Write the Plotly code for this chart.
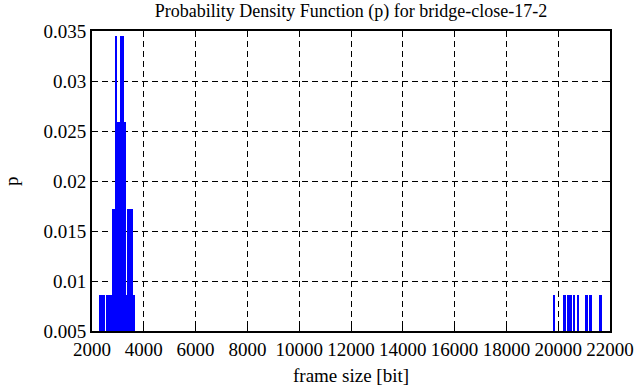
import plotly.graph_objects as go

# frame sizes [bit] and probabilities
frame_sizes = [2340, 2460, 2580, 2660, 2730, 2810, 2850, 2930, 3000, 3040,
               3120, 3200, 3270, 3320, 3390, 3470, 3540, 3620,
               19840, 20260, 20380, 20490, 20630, 20780, 21110, 21250, 21650]
probabilities = [0.00862, 0.00862, 0.00862, 0.00862, 0.00862, 0.01724, 0.01724, 0.03448, 0.02586, 0.02586,
                 0.03448, 0.03448, 0.02586, 0.00862, 0.01724, 0.01724, 0.01724, 0.00862,
                 0.00862, 0.00862, 0.00862, 0.00862, 0.00862, 0.00862, 0.00862, 0.00862, 0.00862]

x_ticks = [2000, 4000, 6000, 8000, 10000, 12000, 14000, 16000, 18000, 20000, 22000]
x_ticklabels = [str(v) for v in x_ticks]
y_ticks = [0.005, 0.01, 0.015, 0.02, 0.025, 0.03, 0.035]
y_ticklabels = ["0.005", "0.01", "0.015", "0.02", "0.025", "0.03", "0.035"]

font = "Liberation Serif"

fig = go.Figure()
fig.add_trace(go.Bar(
    x=frame_sizes, y=probabilities, base=0, width=75,
    marker=dict(color="#0000ff", line=dict(width=0)),
    showlegend=False, hoverinfo="skip",
))

axis_common = dict(
    showline=True, linecolor="black", linewidth=2, mirror="ticks",
    ticks="inside", ticklen=6, tickcolor="black", tickwidth=1,
    showgrid=True, gridcolor="black", gridwidth=1, griddash="6px,4px",
    zeroline=False, automargin=False, tickangle=0,
    tickfont=dict(family=font, size=19, color="black"),
)

fig.update_xaxes(range=[2000, 22000], tickvals=x_ticks, ticktext=x_ticklabels, **axis_common)
fig.update_yaxes(range=[0.005, 0.035], tickvals=y_ticks, ticktext=y_ticklabels, **axis_common)

fig.update_layout(
    width=636, height=387,
    margin=dict(l=92, r=26, t=31, b=56),
    plot_bgcolor="white", paper_bgcolor="white",
    font=dict(family=font, size=19, color="black"),
    bargap=0,
    title=dict(text="Probability Density Function (p) for bridge-close-17-2",
               font=dict(family=font, size=18, color="black"),
               x=351/636, xanchor="center", y=1 - 11/387, yanchor="middle"),
    annotations=[
        dict(text="frame size [bit]", xref="paper", yref="paper", x=0.5, y=0,
             xanchor="center", yanchor="middle", yshift=-44, showarrow=False,
             font=dict(family=font, size=19, color="black")),
        dict(text="p", xref="paper", yref="paper", x=0, y=0.5, textangle=-90,
             xanchor="center", yanchor="middle", xshift=-81, showarrow=False,
             font=dict(family=font, size=19, color="black")),
    ],
)

fig.write_html("out.html", config={"displayModeBar": False},
               post_script="document.body.style.margin='0';")
